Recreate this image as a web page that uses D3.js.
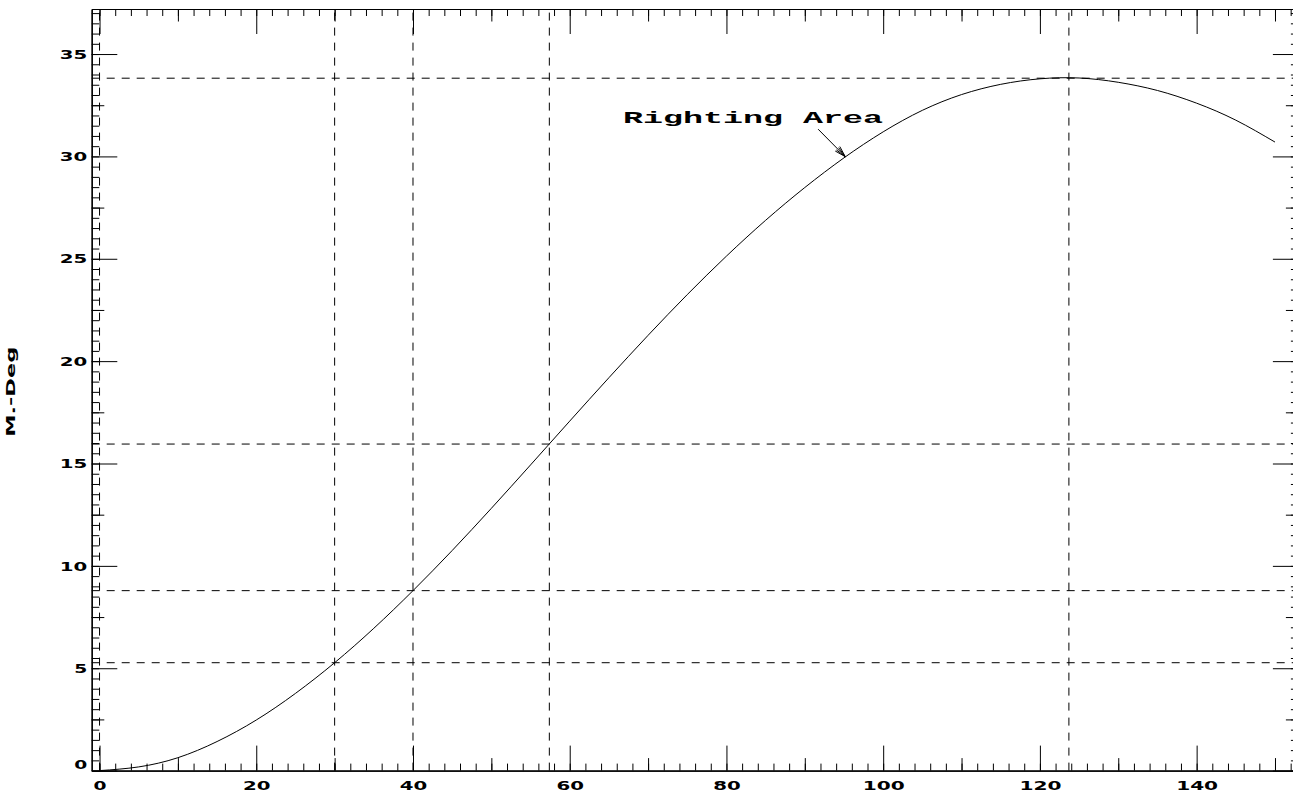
<!DOCTYPE html>
<html>
<head>
<meta charset="utf-8">
<script src="https://cdn.jsdelivr.net/npm/d3@7"></script>
<style>
  body { margin: 0; background: #fff; overflow: hidden; }
  svg { display: block; }
  .lbl { font-family: "DejaVu Sans", sans-serif; font-weight: bold; font-size: 13px; fill: #000; }
</style>
</head>
<body>
<div id="chart-area"></div>
<script>
// heel angle (deg) and righting area (m-deg)
const heelDeg = [0, 5, 10, 15, 20, 25, 30, 35, 40, 45, 50, 55, 60, 65, 70, 75, 80, 85, 90, 95,
                 100, 105, 110, 115, 120, 125, 130, 135, 140, 145, 150]
const rightingArea = [0.00, 0.18, 0.63, 1.42, 2.47, 3.77, 5.27, 6.95, 8.79, 10.75, 12.81, 14.93, 17.07, 19.19, 21.26, 23.25, 25.13, 26.88, 28.48, 29.93,
                      31.20, 32.25, 33.02, 33.52, 33.79, 33.83, 33.62, 33.22, 32.60, 31.77, 30.70]

// dashed reference lines
const refDeg = [0, 30, 40, 57.4, 123.7]
const refArea = [5.27, 8.79, 15.95, 33.82]

const xTickLabels = [0, 20, 40, 60, 80, 100, 120, 140]
const yTickLabels = [0, 5, 10, 15, 20, 25, 30, 35]

// annotation: label position, arrow tail and arrow tip (deg, m-deg)
const noteText = "Righting Area"
const notePos = [66.8, 31.64]
const arrowTail = [91.7, 31.33]
const arrowTip = [95.16, 29.99]

const yTitle = "M.-Deg"

const w = 1293
const h = 796

const x = d3.scaleLinear().domain([-1, 153]).range([91.7, 1298.5])
const y = d3.scaleLinear().domain([0, 37.2]).range([770.6, 9])

const svg = d3.select("#chart-area")
  .append("svg")
  .attr("width", w)
  .attr("height", h)

const xMinor = d3.range(0, 153, 2)
const xMid = d3.range(10, 153, 20)
const yMinor = d3.range(0, 37.3, 0.5)
const yMid = d3.range(2.5, 37.3, 5)

const stretch = (sel) => sel.selectAll("text")
  .attr("class", "lbl")
  .attr("textLength", function () { return this.textContent.length * 14.5 - 1.5 })
  .attr("lengthAdjust", "spacingAndGlyphs")

// dashed reference lines
svg.append("g").selectAll("line")
  .data(refDeg)
  .join("line")
  .attr("x1", (d) => x(d)).attr("x2", (d) => x(d))
  .attr("y1", y(0)).attr("y2", y(37.2))
  .attr("stroke", "#000")
  .attr("stroke-dasharray", "8,7")

svg.append("g").selectAll("line")
  .data(refArea)
  .join("line")
  .attr("x1", x(-1)).attr("x2", x(153))
  .attr("y1", (d) => y(d)).attr("y2", (d) => y(d))
  .attr("stroke", "#000")
  .attr("stroke-dasharray", "8,7")

// axes: three tick levels per side
function addAxis(maker, scale, pos, levels) {
  levels.forEach(([vals, size, labelled]) => {
    const ax = maker(scale).tickValues(vals).tickSizeInner(-size).tickSizeOuter(0)
    if (!labelled) ax.tickFormat("")
    else ax.tickPadding(maker === d3.axisBottom ? 10 : 4.5).tickFormat(d3.format("d"))
    const g = svg.append("g")
      .attr("transform", pos)
      .style("font-family", "DejaVu Sans")
      .call(ax)
    if (labelled) stretch(g)
    // the 0 label on the y axis sits a little above its tick
    if (labelled && maker === d3.axisLeft) {
      g.selectAll(".tick text").filter((d) => d === 0).attr("y", -6)
    }
  })
}

addAxis(d3.axisBottom, x, `translate(0,${y(0)})`, [[xMinor, 7], [xMid, 12.5], [xTickLabels, 25, true]])
addAxis(d3.axisTop, x, `translate(0,${y(37.2)})`, [[xMinor, 7], [xMid, 12.5], [xTickLabels, 25]])
addAxis(d3.axisLeft, y, `translate(${x(-1)},0)`, [[yMinor, 7.6], [yMid, 12.6], [yTickLabels, 25.6, true]])
addAxis(d3.axisRight, y, `translate(${x(153)},0)`, [[yMinor, 7.6], [yMid, 12.6], [yTickLabels, 25.6]])

// the curve
const line = d3.line()
  .x((d, i) => x(heelDeg[i]))
  .y((d) => y(d))
  .curve(d3.curveNatural)

svg.append("path")
  .datum(rightingArea)
  .attr("d", line)
  .attr("fill", "none")
  .attr("stroke", "#000")
  .attr("stroke-width", 1)

// annotation
svg.append("text")
  .attr("x", x(notePos[0]))
  .attr("y", y(notePos[1]))
  .attr("font-family", "Liberation Mono, monospace")
  .attr("font-weight", "bold")
  .attr("font-size", 17)
  .attr("textLength", 260)
  .attr("lengthAdjust", "spacingAndGlyphs")
  .text(noteText)

const tx = x(arrowTip[0]), ty = y(arrowTip[1])
const sx = x(arrowTail[0]), sy = y(arrowTail[1])
const len = Math.hypot(tx - sx, ty - sy)
const ux = (tx - sx) / len, uy = (ty - sy) / len
const headL = 11, headW = 3.2
const bx = tx - ux * headL, by = ty - uy * headL

svg.append("line")
  .attr("x1", sx).attr("y1", sy).attr("x2", tx).attr("y2", ty)
  .attr("stroke", "#000")

svg.append("path")
  .attr("d", `M${bx - uy * headW},${by + ux * headW}L${tx},${ty}L${bx + uy * headW},${by - ux * headW}` +
             `M${bx - uy * headW * 0.5},${by + ux * headW * 0.5}L${tx},${ty}` +
             `M${bx + uy * headW * 0.5},${by - ux * headW * 0.5}L${tx},${ty}`)
  .attr("fill", "none")
  .attr("stroke", "#000")

// y axis title
svg.append("text")
  .attr("class", "lbl")
  .attr("transform", `translate(15,${(y(0) + y(37.2)) / 2 + 2})rotate(-90)`)
  .attr("text-anchor", "middle")
  .attr("font-size", 11)
  .attr("textLength", 90)
  .attr("lengthAdjust", "spacingAndGlyphs")
  .text(yTitle)
</script>
</body>
</html>
